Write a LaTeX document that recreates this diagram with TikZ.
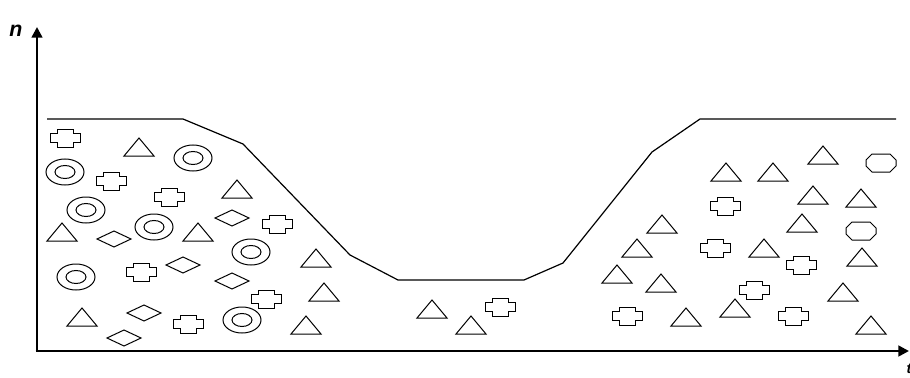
\documentclass[tikz,border=0pt]{standalone}
\usepackage{fontspec}
\setmainfont{Liberation Sans}
\usetikzlibrary{arrows.meta}
\tikzset{
  px/.style={x=0.75pt,y=-0.75pt},
  axis/.style={line width=1.9pt,-{Triangle[width=8pt,length=8pt]}},
  profile/.style={line width=0.9pt,line join=round},
  shp/.style={line width=0.75pt,line join=miter},
  pics/crossp/.style={code={\draw[shp] (-15,-4.5)--(-8,-4.5)--(-8,-9)--(8,-9)--(8,-4.5)--(15,-4.5)--(15,4.5)--(8,4.5)--(8,9)--(-8,9)--(-8,4.5)--(-15,4.5)--cycle;}},
  pics/trip/.style={code={\draw[shp] (0,-9)--(15,9)--(-15,9)--cycle;}},
  pics/ringp/.style={code={\draw[shp] (0,0) ellipse [x radius=19,y radius=13]; \draw[shp] (0,0) ellipse [x radius=10,y radius=6.5];}},
  pics/diap/.style={code={\draw[shp] (-17,0)--(0,-8)--(17,0)--(0,8)--cycle;}},
  pics/octp/.style={code={\draw[shp] (-15,-3)--(-9,-9)--(9,-9)--(15,-3)--(15,3)--(9,9)--(-9,9)--(-15,3)--cycle;}},
}
\begin{document}
\begin{tikzpicture}[px]
\useasboundingbox (0,0) rectangle (910,378);
% axes
\coordinate (o) at (37,351);
\coordinate (ytop) at (37,27);
\coordinate (xend) at (909,351);
\draw[axis] (o) -- (ytop);
\draw[axis] ([xshift=-1pt]o) -- (xend);
\node[font=\fontsize{16}{18}\selectfont\itshape\bfseries] (ylab) at (16,31) {n};
\node[font=\fontsize{11}{12}\selectfont\itshape\bfseries,anchor=west] (xlab) at (902,369) {t};
% profile
\draw[profile] (47,119) -- (183,119) -- (243,144) -- (350,255) -- (398,280) -- (524,280) -- (563,263) -- (652,152) -- (700,119) -- (896,119);
% left crosses
\foreach \p in {(65,138),(111,181),(169,197),(277,224),(141,272),(266,299),(188,324)}
  \pic at \p {crossp};
% left triangles
\foreach \p in {(139,147),(237,189),(62,232),(198,232),(316,258),(324,292),(82,317),(306,325)}
  \pic at \p {trip};
% rings
\foreach \p in {(65,172),(193,158),(86,210),(154,227),(251,252),(76,277),(242,320)}
  \pic at \p {ringp};
% diamonds
\foreach \p in {(232,218),(114,239),(183,265),(232,281),(144,313),(124,338)}
  \pic at \p {diap};
% middle
\foreach \p in {(432,309),(471,325)}
  \pic at \p {trip};
\pic at (500,307) {crossp};
% right triangles
\foreach \p in {(823,155),(726,172),(773,172),(813,195),(861,198),(662,224),(802,223),(637,248),(764,248),(862,257),(617,274),(661,283),(843,292),(735,308),(686,317),(871,325)}
  \pic at \p {trip};
% right crosses
\foreach \p in {(725,206),(715,248),(801,265),(754,290),(627,316),(793,316)}
  \pic at \p {crossp};
% octagons
\pic at (881,163) {octp};
\pic at (861,231) {octp};
\end{tikzpicture}
\end{document}
